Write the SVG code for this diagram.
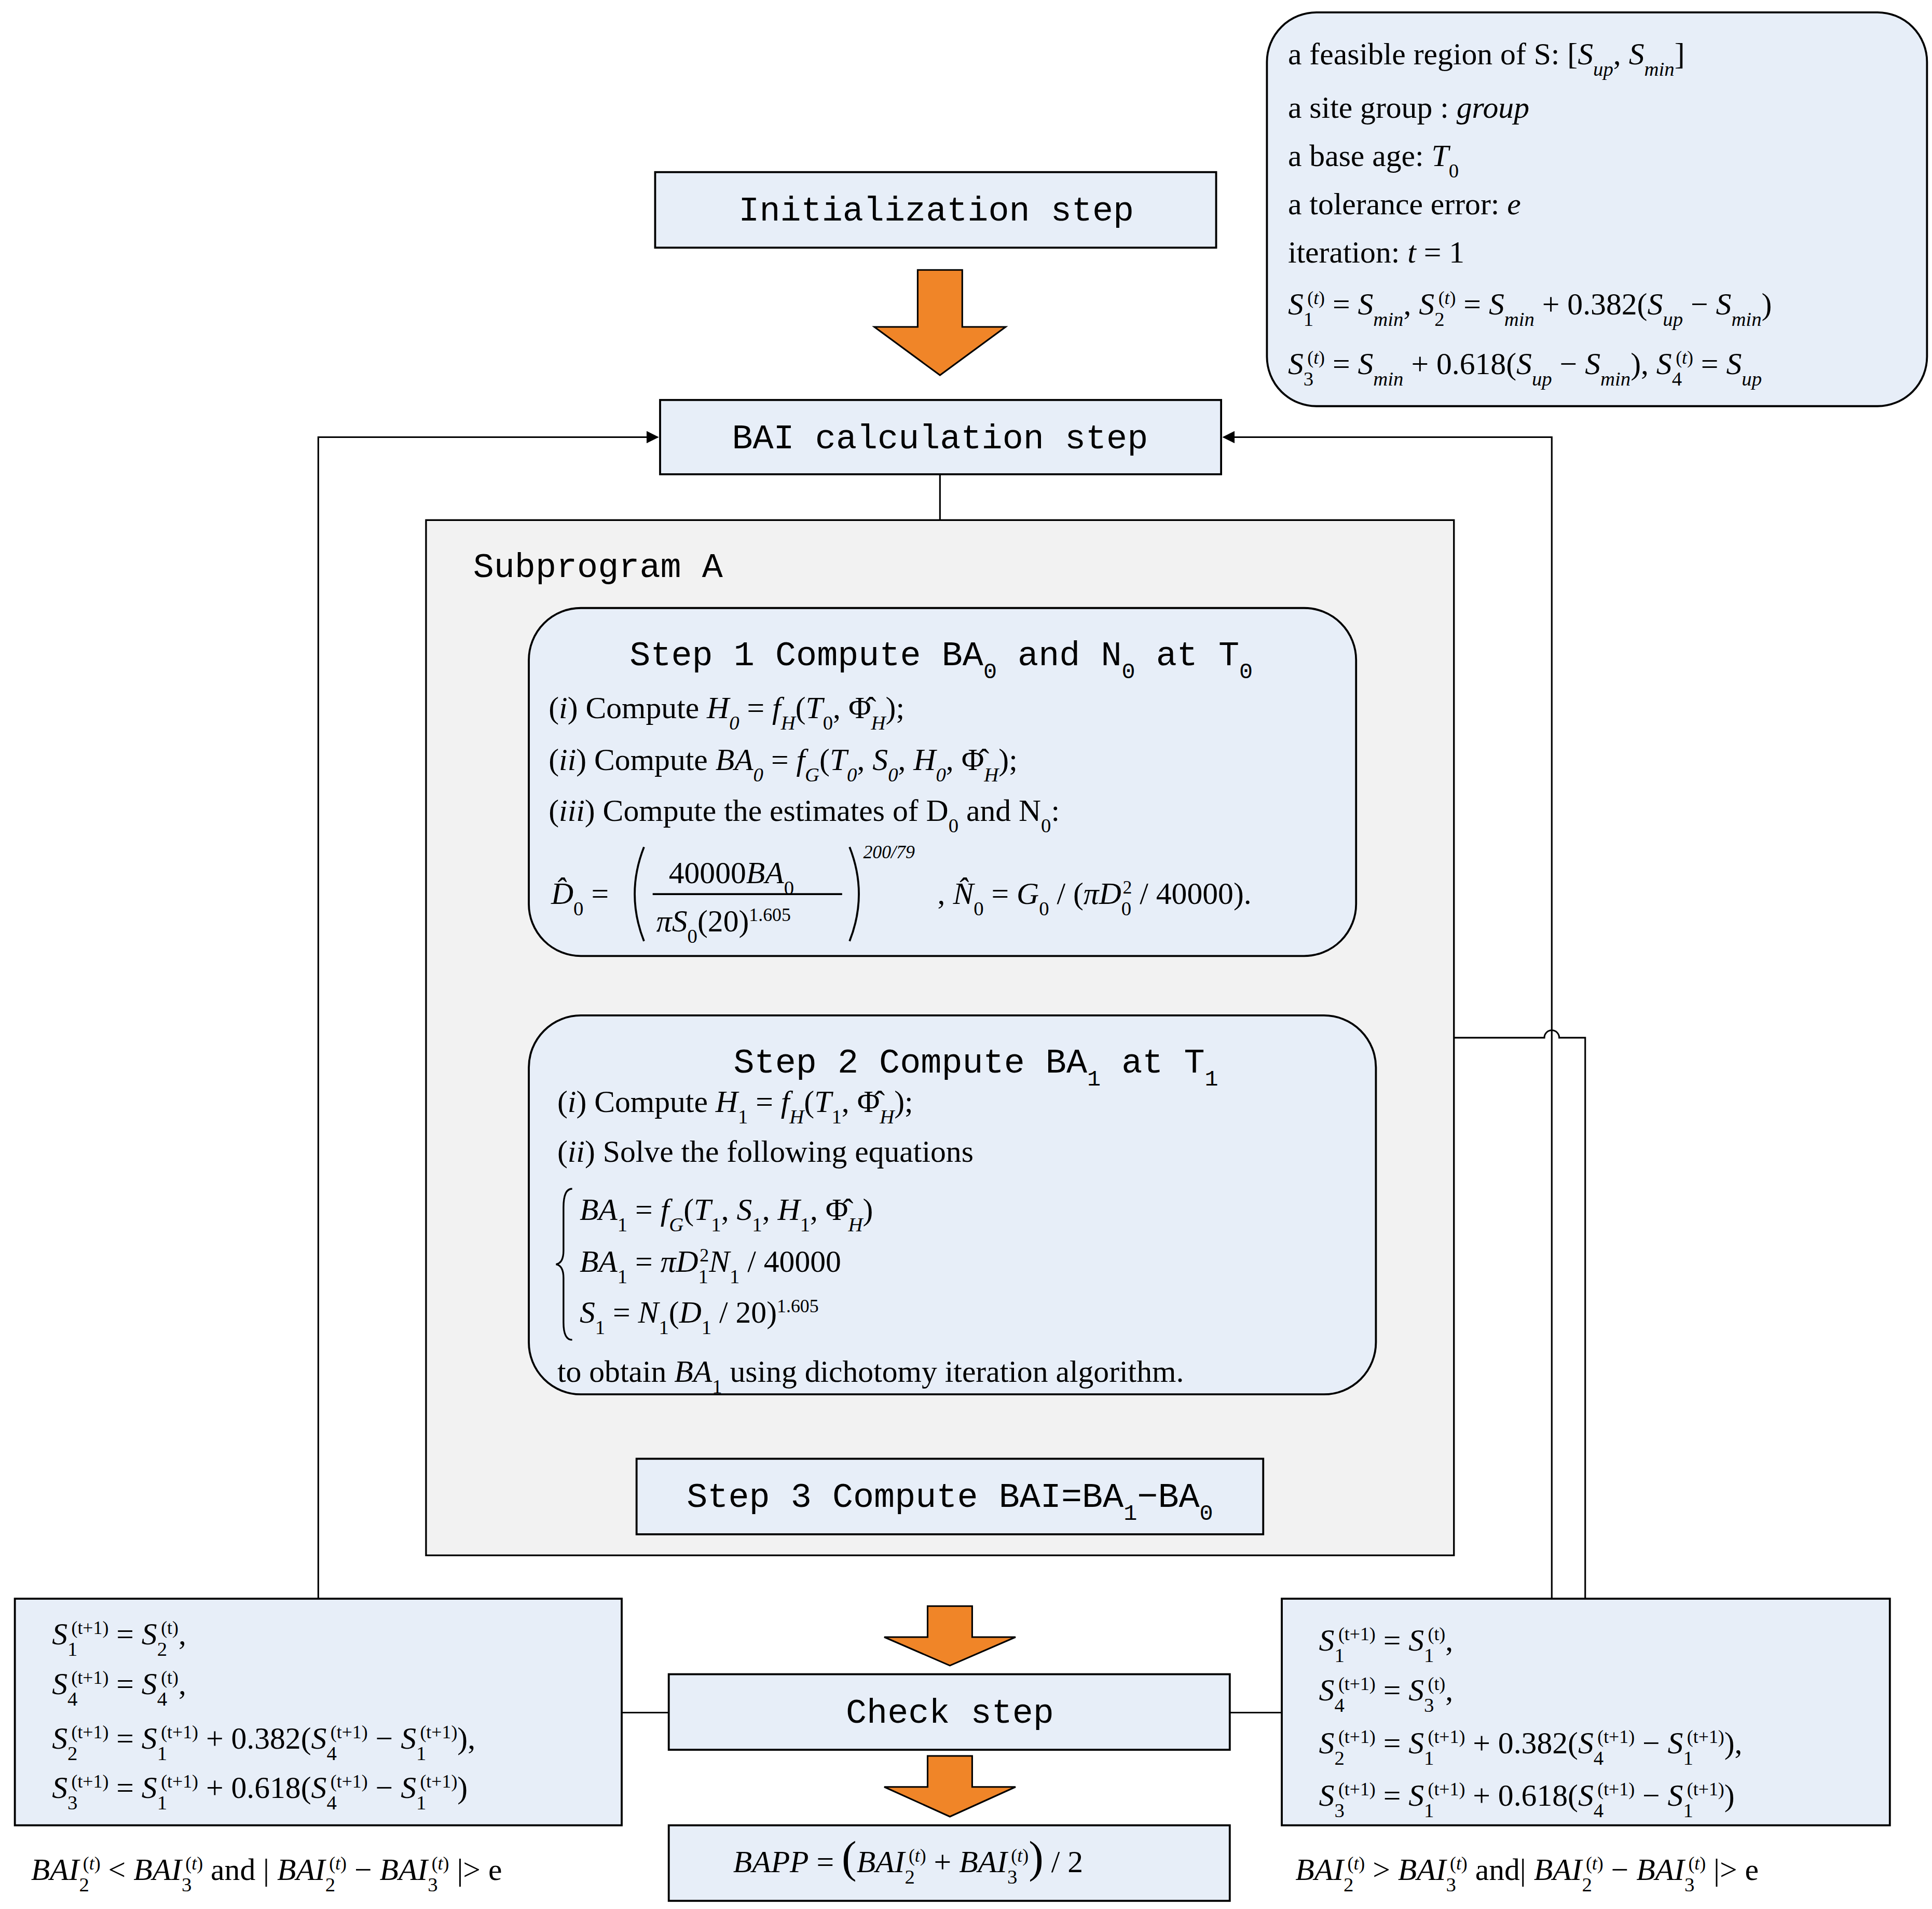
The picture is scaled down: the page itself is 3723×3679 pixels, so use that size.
<svg xmlns="http://www.w3.org/2000/svg" width="3723" height="3679" viewBox="0 0 3723 3679">
<style>
.b{stroke:#000;stroke-width:1.6;fill:#e7eef8}
.g{stroke:#000;stroke-width:1.4;fill:#f2f2f2}
.ln{stroke:#000;stroke-width:1.3;fill:none}
.or{fill:#f08528;stroke:#000;stroke-width:1.3}
.bl{fill:#729fda;stroke:#000;stroke-width:1.3}
.m{font-family:"Liberation Mono",monospace;font-size:28px;fill:#000}
.s{font-family:"Liberation Serif",serif;font-size:25px;fill:#000}
.i{font-style:italic}
.sb{font-size:65%;baseline-shift:sub}
.sp{font-size:60%;baseline-shift:super}
</style>
<defs>
<marker id="ah" markerWidth="10" markerHeight="10" refX="9" refY="5" orient="auto" markerUnits="userSpaceOnUse" viewBox="0 0 10 10"><path d="M0,0 L10,5 L0,10 z" fill="#000"/></marker>
</defs>
<rect width="3723" height="3679" fill="#fff"/>
<g transform="scale(2.3865)">
<g id="connectors">
<path class="ln" d="M759,383 V420"/>
<path class="ln" d="M257,1291 V353 H531" marker-end="url(#ah)" style="stroke-width:1.3"/>
<path class="ln" d="M1253,1291 V353 H988" marker-end="url(#ah)"/>
<path class="ln" d="M1174,838 H1247 A6,6 0 0 1 1259,838 H1280 V1291"/>
<path class="ln" d="M502,1383 H540 M993,1383 H1035"/>
<path class="or" d="M741,218 H777 V264 H812 L759,303 L706,264 H741 Z"/>
<path class="bl" d="M749,780 H785 V795 H820 L767,808 L714,795 H749 Z"/>
<path class="bl" d="M749,1140 H785 V1157 H820 L767,1170 L714,1157 H749 Z"/>
<path class="or" d="M749,1297 H785 V1322 H820 L767,1345 L714,1322 H749 Z"/>
<path class="or" d="M749,1418 H785 V1443 H820 L767,1467 L714,1443 H749 Z"/>
</g>
<g id="params">
<rect class="b" x="1023" y="10" width="533" height="318" rx="40"/>
<text class="s" x="1040" y="52">a feasible region of S:  [<tspan class="i">S<tspan class="sb">up</tspan></tspan>, <tspan class="i">S<tspan class="sb">min</tspan></tspan>]</text>
<text class="s" x="1040" y="95">a site group :  <tspan class="i">group</tspan></text>
<text class="s" x="1040" y="134">a base age:  <tspan class="i">T</tspan><tspan class="sb">0</tspan></text>
<text class="s" x="1040" y="173">a tolerance error:  <tspan class="i">e</tspan></text>
<text class="s" x="1040" y="212">iteration: <tspan class="i">t</tspan> = 1</text>
<text class="s" x="1040" y="254"><tspan class="i">S</tspan><tspan class="sb">1</tspan><tspan class="sp" dx="-5">(<tspan class="i">t</tspan>)</tspan> = <tspan class="i">S<tspan class="sb">min</tspan></tspan>, <tspan class="i">S</tspan><tspan class="sb">2</tspan><tspan class="sp" dx="-5">(<tspan class="i">t</tspan>)</tspan> = <tspan class="i">S<tspan class="sb">min</tspan></tspan> + 0.382(<tspan class="i">S<tspan class="sb">up</tspan></tspan> − <tspan class="i">S<tspan class="sb">min</tspan></tspan>)</text>
<text class="s" x="1040" y="302"><tspan class="i">S</tspan><tspan class="sb">3</tspan><tspan class="sp" dx="-5">(<tspan class="i">t</tspan>)</tspan> = <tspan class="i">S<tspan class="sb">min</tspan></tspan> + 0.618(<tspan class="i">S<tspan class="sb">up</tspan></tspan> − <tspan class="i">S<tspan class="sb">min</tspan></tspan>), <tspan class="i">S</tspan><tspan class="sb">4</tspan><tspan class="sp" dx="-5">(<tspan class="i">t</tspan>)</tspan> = <tspan class="i">S<tspan class="sb">up</tspan></tspan></text>
</g>
<g id="init">
<rect class="b" x="529" y="139" width="453" height="61"/>
<text class="m" x="756" y="178" text-anchor="middle">Initialization step</text>
</g>
<g id="bai">
<rect class="b" x="533" y="323" width="453" height="60"/>
<text class="m" x="759" y="362" text-anchor="middle">BAI calculation step</text>
</g>
<g id="subprogramA">
<rect class="g" x="344" y="420" width="830" height="836"/>
<text class="m" x="382" y="466">Subprogram A</text>
</g>
<g id="step1">
<rect class="b" x="427" y="491" width="668" height="281" rx="42"/>
<text class="m" x="760" y="537" text-anchor="middle">Step 1 Compute BA<tspan class="sb">0</tspan> and N<tspan class="sb">0</tspan> at T<tspan class="sb">0</tspan></text>
<text class="s" x="443" y="580">(<tspan class="i">i</tspan>) Compute <tspan class="i">H<tspan class="sb">0</tspan></tspan> = <tspan class="i">f<tspan class="sb">H</tspan></tspan>(<tspan class="i">T</tspan><tspan class="sb">0</tspan>, Φ̂<tspan class="i sb">H</tspan>);</text>
<text class="s" x="443" y="622">(<tspan class="i">ii</tspan>) Compute <tspan class="i">BA<tspan class="sb">0</tspan></tspan> = <tspan class="i">f<tspan class="sb">G</tspan></tspan>(<tspan class="i">T<tspan class="sb">0</tspan></tspan>, <tspan class="i">S<tspan class="sb">0</tspan></tspan>, <tspan class="i">H<tspan class="sb">0</tspan></tspan>, Φ̂<tspan class="i sb">H</tspan>);</text>
<text class="s" x="443" y="663">(<tspan class="i">iii</tspan>) Compute the estimates of D<tspan class="sb">0</tspan> and N<tspan class="sb">0</tspan>:</text>
<text class="s" x="445" y="730"><tspan class="i">D̂</tspan><tspan class="sb">0</tspan> =</text>
<path class="ln" d="M520,684 Q505,722 520,760 M686,684 Q701,722 686,760" style="stroke-width:1.6"/>
<text class="s" x="540" y="713">40000<tspan class="i">BA</tspan><tspan class="sb">0</tspan></text>
<path class="ln" d="M527,722 H680" style="stroke-width:1.6"/>
<text class="s" x="530" y="752"><tspan class="i">πS</tspan><tspan class="sb">0</tspan>(20)<tspan class="sp">1.605</tspan></text>
<text class="s" x="697" y="693" style="font-size:15px;font-style:italic">200/79</text>
<text class="s" x="757" y="730">, <tspan class="i">N̂</tspan><tspan class="sb">0</tspan> = <tspan class="i">G</tspan><tspan class="sb">0</tspan> / (<tspan class="i">πD</tspan><tspan class="sb">0</tspan><tspan class="sp" dx="-7">2</tspan> / 40000).</text>
</g>
<g id="step2">
<rect class="b" x="427" y="820" width="684" height="306" rx="42"/>
<text class="m" x="788" y="866" text-anchor="middle">Step 2 Compute BA<tspan class="sb">1</tspan> at T<tspan class="sb">1</tspan></text>
<text class="s" x="450" y="898">(<tspan class="i">i</tspan>) Compute <tspan class="i">H</tspan><tspan class="sb">1</tspan> = <tspan class="i">f<tspan class="sb">H</tspan></tspan>(<tspan class="i">T</tspan><tspan class="sb">1</tspan>, Φ̂<tspan class="i sb">H</tspan>);</text>
<text class="s" x="450" y="938">(<tspan class="i">ii</tspan>) Solve the following equations</text>
<path class="ln" d="M462,960 Q455,960 455,975 V1010 Q455,1020 449,1021 Q455,1022 455,1032 V1068 Q455,1082 462,1082" style="stroke-width:1.4"/>
<text class="s" x="468" y="985"><tspan class="i">BA</tspan><tspan class="sb">1</tspan> = <tspan class="i">f<tspan class="sb">G</tspan></tspan>(<tspan class="i">T</tspan><tspan class="sb">1</tspan>, <tspan class="i">S</tspan><tspan class="sb">1</tspan>, <tspan class="i">H</tspan><tspan class="sb">1</tspan>, Φ̂<tspan class="i sb">H</tspan>)</text>
<text class="s" x="468" y="1027"><tspan class="i">BA</tspan><tspan class="sb">1</tspan> = <tspan class="i">πD</tspan><tspan class="sb">1</tspan><tspan class="sp" dx="-7">2</tspan><tspan class="i">N</tspan><tspan class="sb">1</tspan> / 40000</text>
<text class="s" x="468" y="1068"><tspan class="i">S</tspan><tspan class="sb">1</tspan> = <tspan class="i">N</tspan><tspan class="sb">1</tspan>(<tspan class="i">D</tspan><tspan class="sb">1</tspan> / 20)<tspan class="sp">1.605</tspan></text>
<text class="s" x="450" y="1116">to obtain <tspan class="i">BA</tspan><tspan class="sb">1</tspan> using dichotomy iteration algorithm.</text>
</g>
<g id="step3">
<rect class="b" x="514" y="1178" width="506" height="61"/>
<text class="m" x="767" y="1217" text-anchor="middle">Step 3 Compute BAI=BA<tspan class="sb">1</tspan>−BA<tspan class="sb">0</tspan></text>
</g>
<g id="leftUpdate">
<rect class="b" x="12" y="1291" width="490" height="183"/>
<text class="s" x="42" y="1328"><tspan class="i">S</tspan><tspan class="sb">1</tspan><tspan class="sp" dx="-5">(t+1)</tspan> = <tspan class="i">S</tspan><tspan class="sb">2</tspan><tspan class="sp" dx="-5">(t)</tspan>,</text>
<text class="s" x="42" y="1368"><tspan class="i">S</tspan><tspan class="sb">4</tspan><tspan class="sp" dx="-5">(t+1)</tspan> = <tspan class="i">S</tspan><tspan class="sb">4</tspan><tspan class="sp" dx="-5">(t)</tspan>,</text>
<text class="s" x="42" y="1412"><tspan class="i">S</tspan><tspan class="sb">2</tspan><tspan class="sp" dx="-5">(t+1)</tspan> = <tspan class="i">S</tspan><tspan class="sb">1</tspan><tspan class="sp" dx="-5">(t+1)</tspan> + 0.382(<tspan class="i">S</tspan><tspan class="sb">4</tspan><tspan class="sp" dx="-5">(t+1)</tspan> − <tspan class="i">S</tspan><tspan class="sb">1</tspan><tspan class="sp" dx="-5">(t+1)</tspan>),</text>
<text class="s" x="42" y="1452"><tspan class="i">S</tspan><tspan class="sb">3</tspan><tspan class="sp" dx="-5">(t+1)</tspan> = <tspan class="i">S</tspan><tspan class="sb">1</tspan><tspan class="sp" dx="-5">(t+1)</tspan> + 0.618(<tspan class="i">S</tspan><tspan class="sb">4</tspan><tspan class="sp" dx="-5">(t+1)</tspan> − <tspan class="i">S</tspan><tspan class="sb">1</tspan><tspan class="sp" dx="-5">(t+1)</tspan>)</text>
<text class="s" x="25" y="1518"><tspan class="i">BAI</tspan><tspan class="sb">2</tspan><tspan class="sp" dx="-5">(<tspan class="i">t</tspan>)</tspan> &lt; <tspan class="i">BAI</tspan><tspan class="sb">3</tspan><tspan class="sp" dx="-5">(<tspan class="i">t</tspan>)</tspan> and | <tspan class="i">BAI</tspan><tspan class="sb">2</tspan><tspan class="sp" dx="-5">(<tspan class="i">t</tspan>)</tspan> − <tspan class="i">BAI</tspan><tspan class="sb">3</tspan><tspan class="sp" dx="-5">(<tspan class="i">t</tspan>)</tspan> |&gt; e</text>
</g>
<g id="rightUpdate">
<rect class="b" x="1035" y="1291" width="491" height="183"/>
<text class="s" x="1065" y="1333"><tspan class="i">S</tspan><tspan class="sb">1</tspan><tspan class="sp" dx="-5">(t+1)</tspan> = <tspan class="i">S</tspan><tspan class="sb">1</tspan><tspan class="sp" dx="-5">(t)</tspan>,</text>
<text class="s" x="1065" y="1373"><tspan class="i">S</tspan><tspan class="sb">4</tspan><tspan class="sp" dx="-5">(t+1)</tspan> = <tspan class="i">S</tspan><tspan class="sb">3</tspan><tspan class="sp" dx="-5">(t)</tspan>,</text>
<text class="s" x="1065" y="1416"><tspan class="i">S</tspan><tspan class="sb">2</tspan><tspan class="sp" dx="-5">(t+1)</tspan> = <tspan class="i">S</tspan><tspan class="sb">1</tspan><tspan class="sp" dx="-5">(t+1)</tspan> + 0.382(<tspan class="i">S</tspan><tspan class="sb">4</tspan><tspan class="sp" dx="-5">(t+1)</tspan> − <tspan class="i">S</tspan><tspan class="sb">1</tspan><tspan class="sp" dx="-5">(t+1)</tspan>),</text>
<text class="s" x="1065" y="1458"><tspan class="i">S</tspan><tspan class="sb">3</tspan><tspan class="sp" dx="-5">(t+1)</tspan> = <tspan class="i">S</tspan><tspan class="sb">1</tspan><tspan class="sp" dx="-5">(t+1)</tspan> + 0.618(<tspan class="i">S</tspan><tspan class="sb">4</tspan><tspan class="sp" dx="-5">(t+1)</tspan> − <tspan class="i">S</tspan><tspan class="sb">1</tspan><tspan class="sp" dx="-5">(t+1)</tspan>)</text>
<text class="s" x="1046" y="1518"><tspan class="i">BAI</tspan><tspan class="sb">2</tspan><tspan class="sp" dx="-5">(<tspan class="i">t</tspan>)</tspan> &gt; <tspan class="i">BAI</tspan><tspan class="sb">3</tspan><tspan class="sp" dx="-5">(<tspan class="i">t</tspan>)</tspan> and| <tspan class="i">BAI</tspan><tspan class="sb">2</tspan><tspan class="sp" dx="-5">(<tspan class="i">t</tspan>)</tspan> − <tspan class="i">BAI</tspan><tspan class="sb">3</tspan><tspan class="sp" dx="-5">(<tspan class="i">t</tspan>)</tspan> |&gt; e</text>
</g>
<g id="check">
<rect class="b" x="540" y="1352" width="453" height="61"/>
<text class="m" x="767" y="1391" text-anchor="middle">Check step</text>
</g>
<g id="bapp">
<rect class="b" x="540" y="1474" width="453" height="61"/>
<text class="s" x="592" y="1512"><tspan class="i">BAPP</tspan> = <tspan style="font-size:36px">(</tspan><tspan class="i">BAI</tspan><tspan class="sb">2</tspan><tspan class="sp" dx="-5">(<tspan class="i">t</tspan>)</tspan> + <tspan class="i">BAI</tspan><tspan class="sb">3</tspan><tspan class="sp" dx="-5">(<tspan class="i">t</tspan>)</tspan><tspan style="font-size:36px">)</tspan> / 2</text>
</g>
</g>
</svg>
